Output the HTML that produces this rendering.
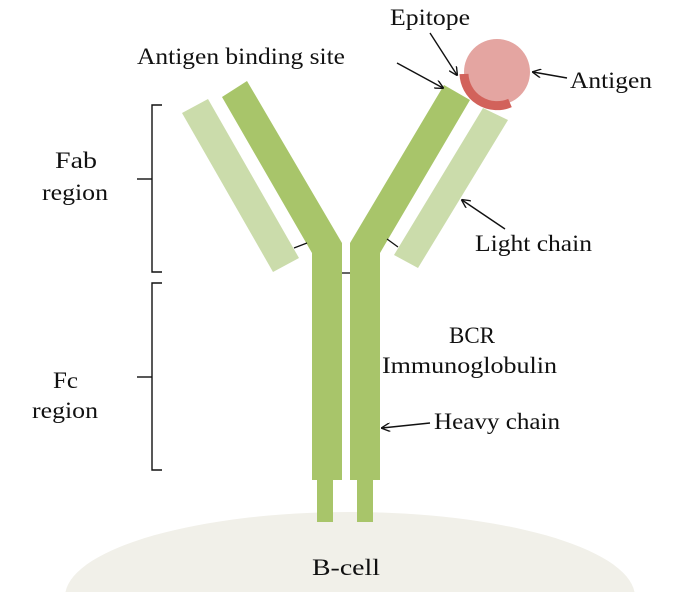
<!DOCTYPE html>
<html><head><style>
html,body{margin:0;padding:0;background:#fff;overflow:hidden;width:696px;height:592px;}
svg{display:block;}
text{font-family:"Liberation Serif",serif;font-size:23px;fill:#111;}
</style></head><body>
<svg width="696" height="592" viewBox="0 0 696 592" xmlns="http://www.w3.org/2000/svg">
<defs>
<marker id="ah" viewBox="0 0 10 10" refX="9" refY="5" markerWidth="9" markerHeight="9" orient="auto" markerUnits="userSpaceOnUse">
<path d="M0,0 L10,5 L0,10" fill="none" stroke="#111" stroke-width="1.5"/>
</marker>
</defs>
<path d="M65.5,592 A285,85 0 0 1 634.5,592 Z" fill="#f1f0e9"/>
<polygon points="182,113 208,99 299,258 273,272" fill="#cbdcab"/>
<polygon points="483,108 508,120 418,268 394,255" fill="#cbdcab"/>
<polygon points="222,97 247,81 342,243 342,480 312,480 312,253" fill="#a8c56a"/>
<polygon points="444,85 470,100 380,253 380,480 350,480 350,243" fill="#a8c56a"/>
<rect x="317" y="478" width="16" height="44" fill="#a8c56a"/>
<rect x="357" y="478" width="16" height="44" fill="#a8c56a"/>
<g stroke="#111" stroke-width="1.3">
<line x1="294" y1="248" x2="307" y2="243"/>
<line x1="387" y1="239" x2="398" y2="247"/>
<line x1="342" y1="273" x2="350" y2="273"/>
</g>
<circle cx="497" cy="72" r="33" fill="#e4a5a1"/>
<path d="M464,74 A33,33 0 0 0 510,103" fill="none" stroke="#d2625b" stroke-width="9"/>
<g stroke="#111" stroke-width="1.4" fill="none" marker-end="url(#ah)">
<line x1="430" y1="33" x2="457" y2="75"/>
<line x1="397" y1="63" x2="443" y2="88"/>
<line x1="567" y1="78" x2="533" y2="72"/>
<line x1="505" y1="229" x2="462" y2="200"/>
<line x1="430" y1="423" x2="382" y2="428"/>
</g>
<g stroke="#111" stroke-width="1.4" fill="none">
<path d="M162,105 H152 V272 H162"/>
<line x1="137" y1="179" x2="152" y2="179"/>
<path d="M162,283 H152 V470 H162"/>
<line x1="137" y1="377" x2="152" y2="377"/>
</g>
<text x="137" y="64" textLength="208" lengthAdjust="spacingAndGlyphs">Antigen binding site</text>
<text x="390" y="25" textLength="80" lengthAdjust="spacingAndGlyphs">Epitope</text>
<text x="570" y="88" textLength="82" lengthAdjust="spacingAndGlyphs">Antigen</text>
<text x="55" y="168" textLength="42" lengthAdjust="spacingAndGlyphs">Fab</text>
<text x="42" y="200" textLength="66" lengthAdjust="spacingAndGlyphs">region</text>
<text x="53" y="388" textLength="25" lengthAdjust="spacingAndGlyphs">Fc</text>
<text x="32" y="418" textLength="66" lengthAdjust="spacingAndGlyphs">region</text>
<text x="475" y="251" textLength="117" lengthAdjust="spacingAndGlyphs">Light chain</text>
<text x="449" y="343" textLength="46" lengthAdjust="spacingAndGlyphs">BCR</text>
<text x="382" y="373" textLength="175" lengthAdjust="spacingAndGlyphs">Immunoglobulin</text>
<text x="434" y="429" textLength="126" lengthAdjust="spacingAndGlyphs">Heavy chain</text>
<text x="312" y="575" textLength="68" lengthAdjust="spacingAndGlyphs">B-cell</text>
</svg>
</body></html>
